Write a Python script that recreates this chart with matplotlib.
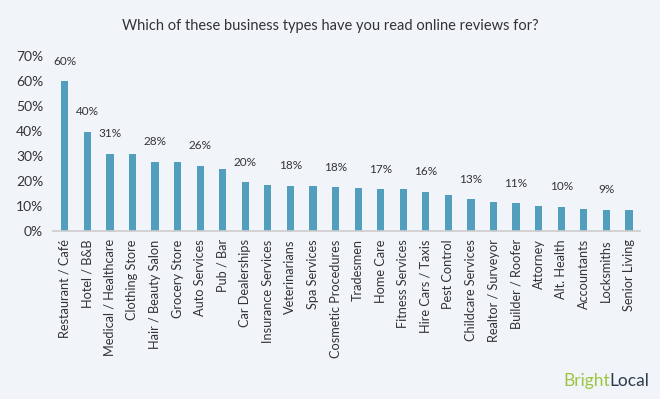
import matplotlib
matplotlib.use("Agg")
import matplotlib.pyplot as plt

categories = ["Restaurant / Café", "Hotel / B&B", "Medical / Healthcare", "Clothing Store",
              "Hair / Beauty Salon", "Grocery Store", "Auto Services", "Pub / Bar",
              "Car Dealerships", "Insurance Services", "Veterinarians", "Spa Services",
              "Cosmetic Procedures", "Tradesmen", "Home Care", "Fitness Services",
              "Hire Cars / Taxis", "Pest Control", "Childcare Services", "Realtor / Surveyor",
              "Builder / Roofer", "Attorney", "Alt. Health", "Accountants", "Locksmiths",
              "Senior Living"]
values = [59.8, 39.6, 30.8, 30.8, 27.6, 27.6, 26.1, 24.7, 19.5, 18.5, 18.1, 18.1,
          17.5, 17.3, 16.7, 16.6, 15.6, 14.5, 12.7, 11.6, 11.0, 9.9, 9.6, 8.8, 8.6, 8.3]
labelled = [0, 1, 2, 4, 6, 8, 10, 12, 14, 16, 18, 20, 22, 24]
yticks = [0, 10, 20, 30, 40, 50, 60, 70]

bg = "#F1F5F9"
bar_color = "#519FBD"
text_color = "#333333"
plt.rcParams['font.family'] = ['Lato', 'DejaVu Sans']

fig = plt.figure(figsize=(6.6, 3.99), dpi=100, facecolor=bg)
ax = fig.add_axes([0.080, 0.421, 0.890, 0.439], facecolor=bg)
x = list(range(len(categories)))
ax.bar(x, values, width=0.32, color=bar_color, zorder=2)
for i in labelled:
    ax.annotate(f"{round(values[i])}%", (x[i], values[i]), xytext=(0, 10.5),
                textcoords="offset points", ha="center", va="bottom",
                fontsize=8.5, color=text_color)
ax.set_xlim(-0.53, 25.5)
ax.set_ylim(0, 70)
ax.set_yticks(yticks)
ax.set_yticklabels([f"{t}%" for t in yticks], fontsize=10, color=text_color)
ax.set_xticks(x)
ax.set_xticklabels(categories, rotation=90, fontsize=9.2, color=text_color)
ax.tick_params(axis='both', length=0)
ax.tick_params(axis='y', pad=7)
ax.tick_params(axis='x', pad=6)
for s in ["top", "right", "left"]:
    ax.spines[s].set_visible(False)
ax.spines["bottom"].set_color("#CCCCCC")
ax.spines["bottom"].set_linewidth(1.2)

fig.text(0.5, 0.935, "Which of these business types have you read online reviews for?",
         ha="center", va="center", fontsize=10.5, color=text_color)
t2 = fig.text(0.984, 0.045, "Local", ha="right", va="center", fontsize=12.5,
              color="#2E3B4B")
fig.canvas.draw()
bb = t2.get_window_extent()
fig.text(bb.x0 / fig.bbox.width, 0.045, "Bright", ha="right", va="center",
         fontsize=12.5, color="#9DC43F")

fig.savefig("out.png", dpi=100, facecolor=bg)
